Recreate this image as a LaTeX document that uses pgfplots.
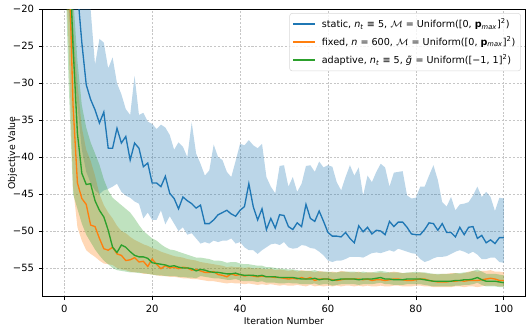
\documentclass[border=0pt]{standalone}
\usepackage{fontspec}
\setmainfont{DejaVu Sans}
\usepackage{pgfplots}
\pgfplotsset{compat=1.18}
\usepackage{pgfplotstable}
\usepgfplotslibrary{fillbetween}

\definecolor{tblue}{HTML}{1F77B4}
\definecolor{torange}{HTML}{FF7F0E}
\definecolor{tgreen}{HTML}{2CA02C}

% columns: iteration, mean, upper, lower
\pgfplotstableread{
i m u l
0 -2.0 8.0 -15.0
1 -6.0 5.0 -20.0
2 -11.0 0.0 -27.0
3 -17.5 -5.0 -33.0
4 -24.5 -10.0 -39.0
5 -30.2 -15.0 -42.0
6 -32.2 -20.0 -43.5
7 -33.6 -27.5 -44.5
8 -35.4 -24.0 -45.0
9 -33.9 -24.5 -44.5
10 -38.8 -28.0 -44.3
11 -38.8 -26.5 -44.0
12 -36.1 -30.0 -43.6
13 -38.1 -31.5 -44.7
14 -37.2 -33.5 -45.2
15 -40.4 -34.3 -45.5
16 -38.1 -29.0 -46.0
17 -38.8 -34.3 -46.3
18 -41.3 -34.0 -48.3
19 -40.8 -35.2 -47.5
20 -43.5 -35.5 -48.5
21 -43.5 -36.2 -48.5
22 -44.0 -35.6 -47.2
23 -42.6 -36.0 -49.1
24 -44.9 -37.0 -48.0
25 -45.6 -39.0 -49.0
26 -47.0 -38.0 -50.0
27 -45.4 -38.6 -49.5
28 -45.9 -40.0 -50.5
29 -46.3 -35.3 -50.3
30 -46.9 -39.5 -51.0
31 -46.5 -40.9 -51.7
32 -49.0 -42.5 -51.5
33 -49.0 -41.8 -51.7
34 -48.5 -38.3 -51.3
35 -47.8 -40.0 -51.5
36 -47.5 -40.4 -51.3
37 -47.2 -42.0 -51.3
38 -47.7 -42.7 -51.0
39 -48.0 -40.5 -51.7
40 -47.2 -38.2 -51.5
41 -46.7 -38.4 -52.2
42 -43.6 -37.7 -52.6
43 -46.7 -38.4 -52.6
44 -48.5 -38.8 -53.1
45 -47.0 -38.2 -52.6
46 -49.8 -42.7 -52.2
47 -48.3 -44.0 -51.8
48 -49.6 -44.9 -51.7
49 -47.8 -41.2 -51.9
50 -47.9 -41.1 -51.5
51 -49.4 -44.0 -52.2
52 -49.8 -42.7 -52.4
53 -48.9 -44.7 -52.3
54 -49.4 -43.6 -51.9
55 -46.4 -41.2 -52.0
56 -48.3 -41.1 -52.3
57 -48.7 -42.0 -52.4
58 -47.3 -40.6 -52.8
59 -48.7 -41.4 -53.3
60 -50.2 -41.1 -54.0
61 -50.7 -41.3 -54.2
62 -50.7 -43.4 -54.0
63 -50.8 -44.5 -54.0
64 -50.2 -42.7 -53.8
65 -51.0 -41.1 -53.5
66 -51.6 -42.5 -53.5
67 -49.3 -41.4 -53.5
68 -50.1 -45.2 -53.6
69 -49.5 -42.5 -53.3
70 -50.4 -43.4 -53.0
71 -49.9 -42.0 -52.9
72 -50.0 -40.9 -53.0
73 -50.5 -41.4 -52.8
74 -48.7 -44.0 -52.6
75 -49.4 -42.1 -52.8
76 -48.8 -42.0 -52.4
77 -48.8 -41.9 -52.6
78 -49.5 -45.2 -52.8
79 -50.4 -45.6 -53.0
80 -50.5 -45.5 -53.1
81 -50.5 -44.0 -53.8
82 -49.8 -44.0 -54.2
83 -48.9 -42.5 -54.0
84 -49.0 -41.1 -53.7
85 -49.9 -43.1 -53.5
86 -49.0 -46.1 -53.5
87 -50.2 -46.7 -53.4
88 -50.2 -45.4 -53.1
89 -50.8 -47.2 -52.8
90 -49.5 -46.4 -52.6
91 -50.5 -46.3 -52.8
92 -49.5 -46.1 -53.1
93 -49.4 -45.2 -52.8
94 -51.0 -44.0 -53.2
95 -50.6 -45.4 -53.8
96 -51.6 -44.7 -53.8
97 -51.2 -45.4 -53.6
98 -51.7 -47.3 -53.6
99 -50.9 -45.5 -54.2
100 -50.9 -45.6 -54.3
}\tabstatic

\pgfplotstableread{
i m u l
0 5.0 20.0 -10.0
1 -12.0 -5.0 -25.0
2 -33.0 -22.0 -44.0
3 -43.5 -30.0 -49.5
4 -45.6 -36.0 -51.3
5 -46.4 -39.0 -52.6
6 -49.2 -40.5 -53.1
7 -49.4 -42.5 -53.5
8 -51.0 -45.0 -54.0
9 -52.4 -46.5 -54.4
10 -52.6 -47.5 -54.5
11 -52.2 -48.3 -54.6
12 -53.1 -49.3 -55.0
13 -53.3 -50.0 -55.2
14 -54.0 -50.3 -55.3
15 -53.9 -50.8 -55.5
16 -53.6 -51.2 -55.6
17 -54.2 -51.5 -55.6
18 -54.1 -51.8 -55.8
19 -54.8 -52.0 -55.8
20 -53.8 -52.3 -55.9
21 -54.5 -52.5 -56.0
22 -55.1 -52.8 -56.1
23 -54.7 -53.0 -56.1
24 -55.0 -53.2 -56.2
25 -54.9 -53.4 -56.2
26 -55.1 -53.5 -56.3
27 -54.9 -53.6 -56.4
28 -55.0 -53.8 -56.4
29 -55.3 -53.9 -56.5
30 -55.2 -54.0 -56.5
31 -55.4 -54.2 -56.6
32 -55.6 -54.3 -56.7
33 -55.6 -54.4 -56.8
34 -55.5 -54.5 -56.8
35 -55.9 -54.6 -56.9
36 -56.0 -54.7 -57.0
37 -56.2 -54.9 -57.1
38 -55.8 -54.8 -57.0
39 -56.0 -54.9 -57.1
40 -55.9 -54.9 -57.1
41 -56.1 -55.0 -57.2
42 -56.0 -54.9 -57.1
43 -56.1 -55.1 -57.2
44 -56.2 -55.0 -57.3
45 -56.1 -55.1 -57.2
46 -56.2 -55.2 -57.3
47 -56.2 -55.1 -57.2
48 -56.3 -55.3 -57.3
49 -56.3 -55.2 -57.4
50 -56.4 -55.3 -57.3
51 -56.5 -55.4 -57.4
52 -56.4 -55.3 -57.4
53 -56.5 -55.5 -57.3
54 -56.3 -55.3 -57.4
55 -56.5 -55.4 -57.5
56 -56.3 -55.4 -57.3
57 -56.7 -55.6 -57.5
58 -56.5 -55.4 -57.4
59 -56.5 -55.5 -57.5
60 -56.5 -55.6 -57.4
61 -56.6 -55.5 -57.5
62 -56.7 -55.6 -57.4
63 -56.6 -55.4 -57.5
64 -56.5 -55.5 -57.4
65 -56.5 -55.6 -57.4
66 -56.5 -55.6 -57.5
67 -56.5 -55.5 -57.4
68 -56.6 -55.7 -57.5
69 -56.5 -55.6 -57.4
70 -56.7 -55.6 -57.5
71 -56.6 -55.7 -57.5
72 -56.6 -55.6 -57.4
73 -56.7 -55.7 -57.5
74 -56.6 -55.6 -57.5
75 -56.5 -55.5 -57.4
76 -56.5 -55.6 -57.4
77 -56.6 -55.7 -57.5
78 -56.7 -55.7 -57.5
79 -56.7 -55.6 -57.5
80 -56.6 -55.7 -57.4
81 -56.5 -55.6 -57.4
82 -56.5 -55.7 -57.5
83 -56.7 -55.8 -57.5
84 -56.8 -55.8 -57.6
85 -56.9 -55.9 -57.6
86 -56.9 -55.8 -57.6
87 -56.9 -55.8 -57.6
88 -56.8 -55.7 -57.6
89 -56.8 -55.7 -57.5
90 -56.7 -55.8 -57.5
91 -56.8 -55.7 -57.6
92 -56.7 -55.5 -57.5
93 -56.7 -55.4 -57.5
94 -56.7 -55.5 -57.6
95 -56.6 -55.4 -57.5
96 -56.5 -55.4 -57.4
97 -56.4 -55.3 -57.4
98 -56.5 -55.5 -57.4
99 -56.7 -55.5 -57.5
100 -56.7 -55.6 -57.5
}\tabfixed

\pgfplotstableread{
i m u l
0 5.0 20.0 -10.0
1 -10.0 -2.0 -30.0
2 -25.0 -18.0 -45.0
3 -36.8 -27.0 -47.0
4 -42.2 -33.0 -49.0
5 -43.7 -36.0 -50.5
6 -43.6 -38.0 -51.5
7 -45.9 -39.5 -52.5
8 -47.2 -41.0 -53.3
9 -48.1 -43.0 -54.0
10 -49.9 -44.5 -54.5
11 -52.2 -45.5 -55.0
12 -52.9 -46.0 -55.3
13 -51.9 -46.5 -55.4
14 -52.2 -47.0 -55.5
15 -52.8 -47.5 -55.6
16 -53.3 -48.3 -55.6
17 -53.5 -49.2 -55.7
18 -53.5 -50.0 -55.7
19 -53.7 -50.5 -55.8
20 -54.3 -51.0 -55.9
21 -54.4 -51.3 -56.0
22 -54.5 -51.8 -56.0
23 -54.6 -52.2 -56.1
24 -54.8 -52.5 -56.1
25 -54.7 -52.6 -56.1
26 -54.9 -52.8 -56.2
27 -55.0 -53.0 -56.2
28 -55.0 -53.2 -56.3
29 -55.1 -53.4 -56.3
30 -55.4 -53.6 -56.4
31 -55.2 -53.6 -56.1
32 -55.3 -53.7 -56.2
33 -55.5 -53.8 -56.3
34 -55.6 -54.0 -56.4
35 -55.6 -54.0 -56.4
36 -55.7 -54.1 -56.5
37 -55.8 -54.3 -56.6
38 -55.8 -54.2 -56.6
39 -55.7 -54.2 -56.5
40 -55.9 -54.4 -56.7
41 -56.0 -54.5 -56.8
42 -56.0 -54.5 -56.8
43 -56.0 -54.6 -56.8
44 -56.1 -54.7 -56.9
45 -56.0 -54.7 -56.8
46 -56.2 -54.9 -57.0
47 -56.2 -54.9 -57.0
48 -56.2 -55.0 -57.0
49 -56.3 -55.1 -57.1
50 -56.3 -55.1 -57.1
51 -56.3 -55.2 -57.0
52 -56.3 -55.2 -57.1
53 -56.4 -55.3 -57.1
54 -56.5 -55.4 -57.2
55 -56.5 -55.4 -57.2
56 -56.5 -55.4 -57.2
57 -56.4 -55.3 -57.1
58 -56.6 -55.5 -57.3
59 -56.5 -55.5 -57.2
60 -56.5 -55.5 -57.2
61 -56.7 -55.6 -57.4
62 -56.6 -55.6 -57.3
63 -56.5 -55.5 -57.2
64 -56.5 -55.5 -57.2
65 -56.5 -55.5 -57.2
66 -56.5 -55.5 -57.2
67 -56.6 -55.6 -57.3
68 -56.5 -55.5 -57.2
69 -56.5 -55.6 -57.2
70 -56.5 -55.6 -57.2
71 -56.4 -55.5 -57.1
72 -56.3 -55.4 -57.0
73 -56.5 -55.5 -57.2
74 -56.5 -55.6 -57.2
75 -56.6 -55.6 -57.3
76 -56.6 -55.6 -57.3
77 -56.6 -55.7 -57.3
78 -56.5 -55.6 -57.2
79 -56.5 -55.6 -57.2
80 -56.5 -55.5 -57.2
81 -56.5 -55.6 -57.2
82 -56.6 -55.6 -57.3
83 -56.7 -55.7 -57.4
84 -56.8 -55.8 -57.5
85 -56.8 -55.8 -57.5
86 -56.8 -55.8 -57.5
87 -56.8 -55.8 -57.5
88 -56.8 -55.8 -57.5
89 -56.7 -55.7 -57.4
90 -56.7 -55.7 -57.4
91 -56.6 -55.6 -57.3
92 -56.6 -55.6 -57.3
93 -56.5 -55.4 -57.2
94 -56.3 -55.2 -57.0
95 -56.6 -55.5 -57.3
96 -56.8 -55.8 -57.5
97 -56.8 -55.8 -57.5
98 -56.8 -55.8 -57.5
99 -56.9 -55.9 -57.6
100 -57.0 -56.0 -57.6
}\tabadaptive

\begin{document}
\begin{tikzpicture}
\begin{axis}[
  scale only axis,
  width=362.5pt, height=215.5pt,
  xmin=-5, xmax=105,
  ymin=-58.9, ymax=-20,
  xtick={0,20,40,60,80,100},
  ytick={-55,-50,-45,-40,-35,-30,-25,-20},
  yticklabels={−55,−50,−45,−40,−35,−30,−25,−20},
  tick pos=left,
  tick align=outside,
  major tick length=2.6pt,
  tick style={black, line width=0.5pt},
  ticklabel style={font=\fontsize{7.5}{9}\selectfont},
  /pgf/number format/assume math mode=true,
  axis line style={black, line width=0.6pt},
  grid=major,
  grid style={gray!45, line width=0.4pt, dash pattern=on 1.6pt off 1.2pt},
  xlabel={Iteration Number},
  ylabel={Objective Value},
  label style={font=\fontsize{7}{8.5}\selectfont},
  xlabel style={yshift=3pt},
  ylabel style={yshift=-10pt},
  legend cell align=left,
  legend style={at={(0.99,0.987)}, anchor=north east,
    draw=gray!30, rounded corners=2pt, fill=white, fill opacity=0.8, text opacity=1,
    font=\fontsize{7.2}{8.6}\selectfont, inner xsep=2pt, inner ysep=2pt,
    row sep=1.2pt},
  legend image code/.code={\draw[#1, line width=1.3pt] (0pt,0pt) -- (16pt,0pt); \path (19pt,0pt);},
]
% static
\addplot[draw=none, name path=su, forget plot] table[x=i, y=u] {\tabstatic};
\addplot[draw=none, name path=sl, forget plot] table[x=i, y=l] {\tabstatic};
\addplot[fill=tblue, fill opacity=0.3, draw=none, forget plot] fill between[of=su and sl];
\addplot[tblue, line width=1pt] table[x=i, y=m] {\tabstatic};
\addlegendentry{static, \textit{n}\textsubscript{\textit{t}} ≡ 5, $\mathcal{M}$ = Uniform([0, \textbf{p}\textsubscript{\textit{max}}]\textsuperscript{2})}

% fixed
\addplot[draw=none, name path=fu, forget plot] table[x=i, y=u] {\tabfixed};
\addplot[draw=none, name path=fl, forget plot] table[x=i, y=l] {\tabfixed};
\addplot[fill=torange, fill opacity=0.3, draw=none, forget plot] fill between[of=fu and fl];
\addplot[torange, line width=1pt] table[x=i, y=m] {\tabfixed};
\addlegendentry{fixed, \textit{n} = 600, $\mathcal{M}$ = Uniform([0, \textbf{p}\textsubscript{\textit{max}}]\textsuperscript{2})}

% adaptive
\addplot[draw=none, name path=au, forget plot] table[x=i, y=u] {\tabadaptive};
\addplot[draw=none, name path=al, forget plot] table[x=i, y=l] {\tabadaptive};
\addplot[fill=tgreen, fill opacity=0.3, draw=none, forget plot] fill between[of=au and al];
\addplot[tgreen, line width=1pt] table[x=i, y=m] {\tabadaptive};
\addlegendentry{adaptive, \textit{n}\textsubscript{\textit{t}} ≡ 5, \textit{g̃} = Uniform([−1, 1]\textsuperscript{2})}
\end{axis}
\pgfresetboundingbox
\path[use as bounding box] (current axis.south west) ++(-31.7pt,-25pt) rectangle ([shift={(4.7pt,7pt)}]current axis.north east);
\end{tikzpicture}
\end{document}
